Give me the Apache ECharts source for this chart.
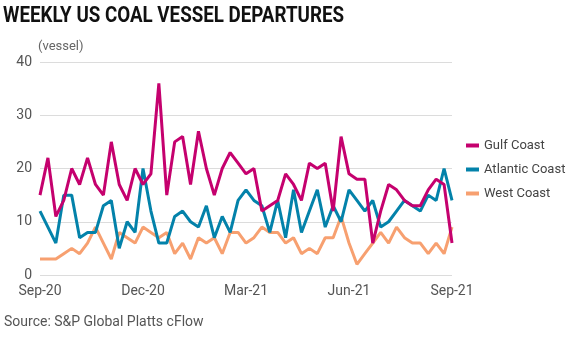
<!DOCTYPE html>
<html>
<head>
<meta charset="utf-8">
<script src="https://cdn.jsdelivr.net/npm/echarts@6/dist/echarts.min.js"></script>
<style>html,body{margin:0;padding:0;background:#fff}#c{width:567px;height:340px}</style>
</head>
<body>
<div id="c"></div>
<script>
var weeks = ['2020-09-06','2020-09-13','2020-09-20','2020-09-27','2020-10-04','2020-10-11','2020-10-18','2020-10-25','2020-11-01','2020-11-08','2020-11-15','2020-11-22','2020-11-29','2020-12-06','2020-12-13','2020-12-20','2020-12-27',
'2021-01-03','2021-01-10','2021-01-17','2021-01-24','2021-01-31','2021-02-07','2021-02-14','2021-02-21','2021-02-28','2021-03-07','2021-03-14','2021-03-21','2021-03-28','2021-04-04','2021-04-11','2021-04-18','2021-04-25','2021-05-02','2021-05-09','2021-05-16','2021-05-23','2021-05-30','2021-06-06','2021-06-13','2021-06-20','2021-06-27','2021-07-04','2021-07-11','2021-07-18','2021-07-25','2021-08-01','2021-08-08','2021-08-15','2021-08-22','2021-08-29','2021-09-05'];
var gulfCoast = [15,22,11,14,20,17,22,17,15,25,17, 14,20,17,19,36,15,25,26,17,27,20, 15,20,23,21,19,20,12,13,14,19, 17,14,21,20,21,12,26,19,18,18, 6,12,17,16,14,13,13,16,18,17,6];
var atlanticCoast = [12,9,6,15,15,7,8,8,13,14,5, 10,8,20,12,6,6,11,12,10,9,13, 7,11,8,14,16,14,13,8,14,7, 16,8,12,16,9,13,10,16,14,12, 14,9,10,12,14,13,12,15,14,20,14];
var westCoast = [3,3,3,4,5,4,6,9,6,3,8, 7,6,9,8,7,8,4,6,3,7,6, 7,4,8,8,6,7,9,8,8,6, 7,4,5,4,7,7,11,6,2,4, 6,8,6,9,7,6,6,4,6,4,9];
var tickIndex = [0,13,26,39,52];
var tickLabels = ['Sep-20','Dec-20','Mar-21','Jun-21','Sep-21'];
var yTicks = [0,10,20,30,40];

var font = 'Roboto, "Noto Sans", sans-serif';
var titleText = 'WEEKLY US COAL VESSEL DEPARTURES';
var titleFont = 'bold 22px Roboto, "Noto Sans", sans-serif';
var mc = document.createElement('canvas').getContext('2d');
mc.font = titleFont;
var titleScale = 341 / mc.measureText(titleText).width;

var chart = echarts.init(document.getElementById('c'), null, {renderer:'canvas'});
chart.setOption({
  animation: false,
  backgroundColor: '#fff',
  graphic: [
    {type:'text', x: 3, y: 5, scaleX: titleScale, style:{text: titleText, font: titleFont, fill:'#111'}},
    {type:'text', left: 38, top: 40, style:{text:'(vessel)', font: '13px ' + font, fill:'#666'}},
    {type:'text', left: 4, top: 315, style:{text:'Source: S&P Global Platts cFlow', font: '14px ' + font, fill:'#555'}}
  ],
  legend: {
    orient: 'vertical', left: 461, top: 134, width: 110,
    itemWidth: 13, itemHeight: 4, itemGap: 11,
    icon: 'rect',
    data: ['Gulf Coast','Atlantic Coast','West Coast'],
    textStyle: {fontFamily: font, fontSize: 13, color: '#444', overflow: 'none'}
  },
  grid: {left: 40, right: 115, top: 62, bottom: 65, containLabel: false},
  xAxis: {
    type: 'category', data: weeks, boundaryGap: false,
    axisLine: {show: false}, axisTick: {show: false},
    axisLabel: {
      interval: function(i){ return tickIndex.indexOf(i) >= 0; },
      formatter: function(v, i){ var k = tickIndex.indexOf(i); return k >= 0 ? tickLabels[k] : ''; },
      fontFamily: font, fontSize: 14, color: '#555', margin: 9
    },
    splitLine: {show: false}
  },
  yAxis: {
    type: 'value', min: yTicks[0], max: yTicks[yTicks.length-1], interval: 10,
    axisLine: {show: false}, axisTick: {show: false},
    axisLabel: {fontFamily: font, fontSize: 14, color: '#555', margin: 8},
    splitLine: {lineStyle: {color: '#dcdcdc', width: 1}}
  },
  series: [
    {name:'West Coast', type:'line', data: westCoast, showSymbol:false, symbol:'none', color:'#f7a070', lineStyle:{width:3, color:'#f7a070'}},
    {name:'Atlantic Coast', type:'line', data: atlanticCoast, showSymbol:false, symbol:'none', color:'#0382aa', lineStyle:{width:3, color:'#0382aa'}},
    {name:'Gulf Coast', type:'line', data: gulfCoast, showSymbol:false, symbol:'none', color:'#c5016e', lineStyle:{width:3, color:'#c5016e'}}
  ]
});
</script>
</body>
</html>
